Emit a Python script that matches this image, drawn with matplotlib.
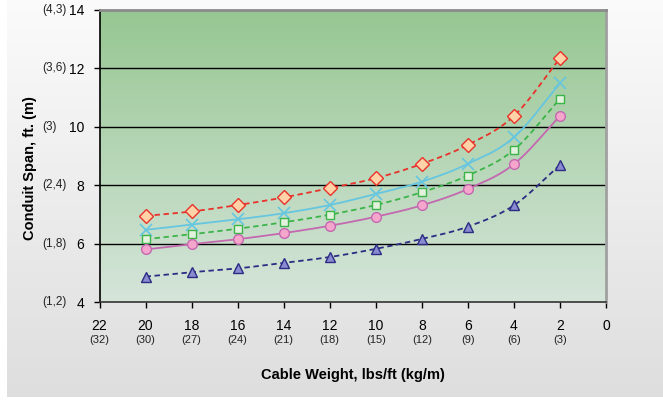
import numpy as np
import matplotlib
matplotlib.use("Agg")
import matplotlib.pyplot as plt
from matplotlib.colors import LinearSegmentedColormap

plt.rcParams['font.family'] = ['Liberation Sans', 'DejaVu Sans']

# ---- data ----
weights = [20, 18, 16, 14, 12, 10, 8, 6, 4, 2]
series_red = [6.95, 7.10, 7.32, 7.58, 7.90, 8.24, 8.73, 9.38, 10.37, 12.35]
series_cyan = [6.47, 6.65, 6.83, 7.04, 7.32, 7.70, 8.12, 8.73, 9.64, 11.49]
series_green = [6.15, 6.32, 6.51, 6.73, 6.99, 7.32, 7.76, 8.33, 9.21, 10.96]
series_pink = [5.80, 5.98, 6.15, 6.36, 6.61, 6.92, 7.31, 7.87, 8.72, 10.37]
series_blue = [4.87, 5.02, 5.15, 5.34, 5.54, 5.82, 6.16, 6.58, 7.31, 8.69]

x_ticks = [22, 20, 18, 16, 14, 12, 10, 8, 6, 4, 2, 0]
x_metric = ["(32)", "(30)", "(27)", "(24)", "(21)", "(18)", "(15)", "(12)", "(9)", "(6)", "(3)", ""]
y_ticks = [4, 6, 8, 10, 12, 14]
y_metric = ["(1,2)", "(1,8)", "(2,4)", "(3)", "(3,6)", "(4,3)"]


def smooth(x, y, n=20):
    x = np.asarray(x, float)
    y = np.asarray(y, float)
    P = np.column_stack([x, y])
    P = np.vstack([P[0] - (P[1] - P[0]), P, P[-1] + (P[-1] - P[-2])])
    out = []
    for i in range(1, len(P) - 2):
        p0, p1, p2, p3 = P[i - 1], P[i], P[i + 1], P[i + 2]
        t = np.linspace(0, 1, n, endpoint=(i == len(P) - 3))[:, None]
        pts = 0.5 * ((2 * p1) + (-p0 + p2) * t + (2 * p0 - 5 * p1 + 4 * p2 - p3) * t ** 2
                     + (-p0 + 3 * p1 - 3 * p2 + p3) * t ** 3)
        out.append(pts)
    out = np.vstack(out)
    return out[:, 0], out[:, 1]


fig = plt.figure(figsize=(6.63, 4.0), dpi=100)
fig.patch.set_facecolor('white')

# figure background gradient panel
bg = fig.add_axes([7 / 663, 3 / 400, 656 / 663, 397 / 400])
bg.set_axis_off()
bgcmap = LinearSegmentedColormap.from_list('bg', ['#fbfbfb', '#dedede'])
bg.imshow(np.linspace(0, 1, 256)[:, None], aspect='auto', cmap=bgcmap,
          extent=[0, 1, 0, 1], origin='upper')

ax = fig.add_axes([99.5 / 663, 1 - 302 / 400, (606 - 99.5) / 663, (302 - 10) / 400])
ax.set_xlim(22, 0)
ax.set_ylim(4, 14)

pcmap = LinearSegmentedColormap.from_list('plot', ['#97c792', '#d5e5da'])
ax.imshow(np.linspace(0, 1, 256)[:, None], aspect='auto', cmap=pcmap,
          extent=[22, 0, 4, 14], origin='upper', zorder=0)

for yv in [6, 8, 10, 12]:
    ax.axhline(yv, color='black', lw=1.0, zorder=1)

styles = [
    (series_red, dict(color='#e8322a', ls=(0, (3, 2)), lw=1.3),
     dict(marker='D', ms=6.8, mfc='#ffd2a8', mec='#e8322a', mew=1.0)),
    (series_cyan, dict(color='#66c6e0', ls='-', lw=1.3),
     dict(marker='x', ms=8, mec='#66c6e0', mew=1.2)),
    (series_green, dict(color='#3cb44a', ls=(0, (3, 2)), lw=1.3),
     dict(marker='s', ms=6, mfc='#e2f2dc', mec='#3cb44a', mew=1.0)),
    (series_pink, dict(color='#c468b0', ls='-', lw=1.3),
     dict(marker='o', ms=7, mfc='#f5a6cc', mec='#c468b0', mew=1.0)),
    (series_blue, dict(color='#2c2c84', ls=(0, (3, 2)), lw=1.3),
     dict(marker='^', ms=7.5, mfc='#8a8ad0', mec='#2c2c84', mew=1.0)),
]
for vals, lstyle, mstyle in styles:
    sx, sy = smooth(weights, vals)
    ax.plot(sx, sy, zorder=3, **lstyle)
    ax.plot(weights, vals, ls='none', zorder=4, **mstyle)

# spines
ax.spines['top'].set_color('#8a8a8a')
ax.spines['top'].set_linewidth(2)
ax.spines['right'].set_color('#a0a0a0')
ax.spines['right'].set_linewidth(2)
ax.spines['left'].set_color('black')
ax.spines['left'].set_linewidth(1.2)
ax.spines['bottom'].set_color('#333333')
ax.spines['bottom'].set_linewidth(1.2)
for s in ax.spines.values():
    s.set_zorder(5)

ax.set_xticks(x_ticks)
ax.set_xticklabels([str(v) for v in x_ticks], fontsize=10)
ax.set_yticks(y_ticks)
ax.set_yticklabels([str(v) for v in y_ticks], fontsize=10)
ax.tick_params(axis='both', direction='out', length=4, width=1.0, color='black')
ax.tick_params(axis='y', pad=7)
ax.tick_params(axis='x', pad=8)

for xv, lab in zip(x_ticks, x_metric):
    if lab:
        ax.annotate(lab, xy=(xv, 0), xycoords=('data', 'axes fraction'),
                    xytext=(0, -38), textcoords='offset pixels',
                    ha='center', va='center', fontsize=8, color='#222222')

for yv, lab in zip(y_ticks, y_metric):
    ax.annotate(lab, xy=(42 / 663, yv), xycoords=(fig.transFigure, 'data'),
                ha='left', va='center', fontsize=8.5, color='#222222')

ax.set_xlabel('Cable Weight, lbs/ft (kg/m)', fontsize=10.5, fontweight='bold')
ax.xaxis.set_label_coords(0.5, -(368 - 302) / 292)
ax.set_ylabel('Conduit Span, ft. (m)', fontsize=10.5, fontweight='bold')
ax.yaxis.set_label_coords(-(99.5 - 37) / 506.5, 1 - (168 - 10) / 292)

fig.savefig('out.png', dpi=100)
